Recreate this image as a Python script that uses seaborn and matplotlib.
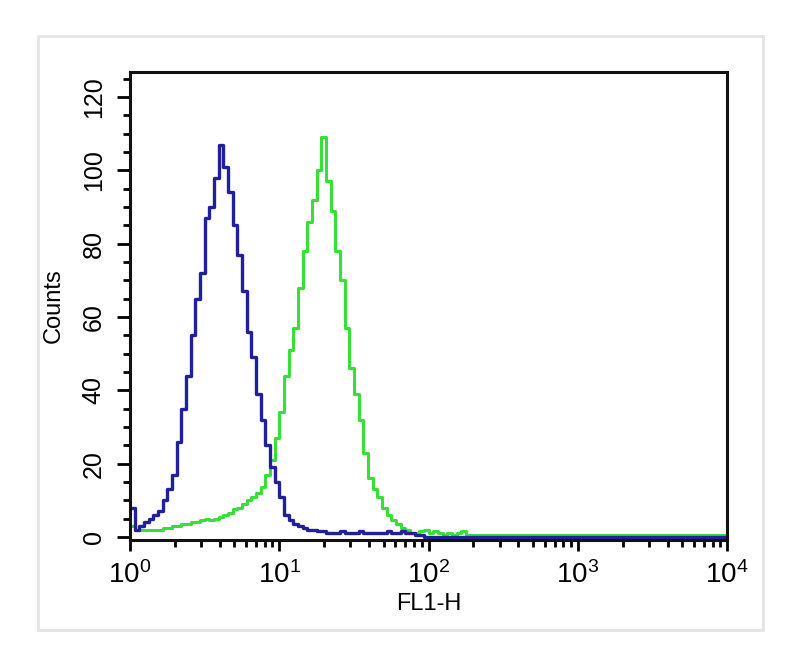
import numpy as np
import pandas as pd
import seaborn as sns
import matplotlib.pyplot as plt
from matplotlib.patches import Rectangle
from matplotlib.ticker import LogLocator, MultipleLocator, NullFormatter
from matplotlib import font_manager

# 128 channels over 4 decades (32 per decade), counts
canales = np.arange(128)

azul = [8, 2, 3, 4, 5, 6, 7, 10, 13, 17,
        26, 35, 44, 55, 65, 72, 87, 90, 98, 107,
        101, 94, 85, 77, 67, 56, 49, 39, 32, 25,
        19, 15, 11, 6, 4.5, 3.5, 3, 2.5, 2, 2,
        1.5, 1.5, 1, 1, 1, 1.5, 1, 1, 1, 1.5,
        1, 1, 1, 1, 1, 1.5, 1, 1, 1.5, 1,
        1, 0.5, 0.5, 0, 0, 0, 0, 0, 0, 0,
        0, 0, 0, 0, 0, 0, 0, 0, 0, 0,
        0, 0, 0, 0, 0, 0, 0, 0, 0, 0,
        0, 0, 0, 0, 0, 0, 0, 0, 0, 0,
        0, 0, 0, 0, 0, 0, 0, 0, 0, 0,
        0, 0, 0, 0, 0, 0, 0, 0, 0, 0,
        0, 0, 0, 0, 0, 0, 0, 0]

verde = [3, 2, 2, 2, 2, 2, 2, 2.5, 2.5, 3,
         3, 3.5, 3.5, 4, 4, 4.5, 5, 4.5, 5, 5.5,
         6, 6.5, 7.5, 8, 9, 10, 11, 12, 13.5, 17,
         21, 27, 34, 44, 51, 57, 68, 78, 86, 92,
         100, 109, 97, 89, 78, 70, 57, 46, 39, 32,
         23, 16, 13, 11, 8, 6, 4.5, 3.5, 2.5, 2,
         1, 1, 1.5, 2, 1, 1.5, 1, 0.5, 1, 0.5,
         1, 1.5, 0.5, 0.5, 0.5, 0.5, 0.5, 0.5, 0.5, 0.5,
         0.5, 0.5, 0.5, 0.5, 0.5, 0.5, 0.5, 0.5, 0.5, 0.5,
         0.5, 0.5, 0.5, 0.5, 0.5, 0.5, 0.5, 0.5, 0.5, 0.5,
         0.5, 0.5, 0.5, 0.5, 0.5, 0.5, 0.5, 0.5, 0.5, 0.5,
         0.5, 0.5, 0.5, 0.5, 0.5, 0.5, 0.5, 0.5, 0.5, 0.5,
         0.5, 0.5, 0.5, 0.5, 0.5, 0.5, 0.5, 0.5]

sns.set_style('ticks')
plt.rcParams['font.family'] = ['Liberation Sans', 'DejaVu Sans']
plt.rcParams['text.color'] = 'black'
plt.rcParams['axes.labelcolor'] = 'black'
plt.rcParams['xtick.color'] = 'black'
plt.rcParams['ytick.color'] = 'black'

instaladas = {f.name for f in font_manager.fontManager.ttflist}
fuente_estrecha = 'Liberation Sans Narrow' if 'Liberation Sans Narrow' in instaladas else 'Liberation Sans'

centros = 10 ** ((canales + 0.5) / 32)
datos = pd.DataFrame({'x': centros, 'azul': azul, 'verde': verde})

fig = plt.figure(figsize=(8, 6.56), dpi=100)
ax = fig.add_axes([0.1625, 0.177, 0.7463, 0.713])

sns.histplot(data=datos, x='x', weights='verde', bins=128, binrange=(0, 4),
             log_scale=True, element='step', fill=False, color='#36e036',
             linewidth=2.2, ax=ax)
sns.histplot(data=datos, x='x', weights='azul', bins=128, binrange=(0, 4),
             log_scale=True, element='step', fill=False, color='#20209a',
             linewidth=2.4, ax=ax)

ax.set_xlim(1, 1e4)
ax.set_ylim(-0.8, 126.8)
ax.set_xlabel('FL1-H', fontsize=17, labelpad=3)
ax.set_ylabel('Counts', fontsize=17, labelpad=12, family=fuente_estrecha)

ax.xaxis.set_major_locator(LogLocator(base=10, numticks=10))
ax.xaxis.set_minor_locator(LogLocator(base=10, subs=np.arange(2, 10), numticks=20))
ax.xaxis.set_minor_formatter(NullFormatter())
ax.yaxis.set_major_locator(MultipleLocator(20))
ax.yaxis.set_minor_locator(MultipleLocator(5))

ax.tick_params(axis='x', which='major', length=8, width=2, labelsize=20, pad=7)
ax.tick_params(axis='x', which='minor', length=5, width=2)
ax.tick_params(axis='y', which='major', length=9.5, width=2, labelsize=18,
               labelrotation=90, pad=8)
ax.tick_params(axis='y', which='minor', length=5, width=2)
for lbl in ax.get_yticklabels():
    lbl.set_va('center')
    lbl.set_family(fuente_estrecha)

for lado in ['left', 'right', 'top', 'bottom']:
    ax.spines[lado].set_visible(True)
    ax.spines[lado].set_linewidth(2.2)
    ax.spines[lado].set_color('#111111')

# light outer frame around the whole picture
fig.patches.append(Rectangle((0.048, 0.04), 0.906, 0.905, transform=fig.transFigure,
                             fill=False, edgecolor='#e4e4e4', linewidth=2))

fig.savefig('out.png', dpi=100)
